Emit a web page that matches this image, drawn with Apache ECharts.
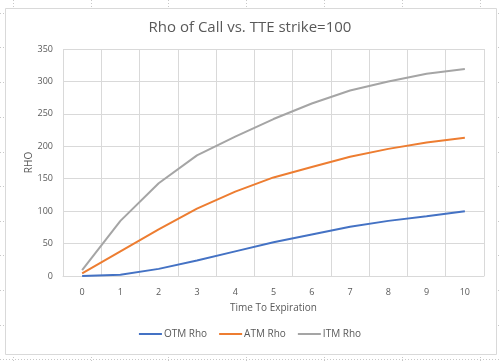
<!DOCTYPE html>
<html><head><meta charset="utf-8">
<script src="https://cdn.jsdelivr.net/npm/echarts@6/dist/echarts.min.js"></script>
<style>html,body{margin:0;padding:0;background:#fff}#c{width:500px;height:361px}</style>
</head><body><div id="c"></div>
<script>
const categories = ['0','1','2','3','4','5','6','7','8','9','10'];
const otmRho = [0, 2, 11, 24, 38, 52, 64, 76, 85, 92, 100];
const atmRho = [4, 38, 72, 104, 130, 152, 168, 184, 196, 206, 213];
const itmRho = [9, 85, 143, 186, 215, 242, 266, 286, 300, 312, 319];
const yTicks = [0, 50, 100, 150, 200, 250, 300, 350];

const font = 'Open Sans';
const txt = '#595959';
const chart = echarts.init(document.getElementById('c'), null, {renderer: 'canvas'});
const mk = (name, data, color) => ({
  name, type: 'line', data, symbol: 'none', smooth: false,
  lineStyle: {color, width: 2}, itemStyle: {color}
});
// spreadsheet background cell lines (decoration)
const sheet = [];
[13, 91, 168, 246, 324, 402, 480].forEach(x => sheet.push({
  type: 'line', z: -2, shape: {x1: x + 0.5, y1: 0, x2: x + 0.5, y2: 361},
  style: {stroke: '#c8c8c8', lineWidth: 1, lineDash: [1, 2]}
}));
[13, 47, 82, 117, 152, 186, 221, 255, 290, 325, 359].forEach(y => sheet.push({
  type: 'line', z: -2, shape: {x1: 0, y1: y + 0.5, x2: 500, y2: y + 0.5},
  style: {stroke: '#c8c8c8', lineWidth: 1, lineDash: [1, 2]}
}));
sheet.push({
  type: 'rect', z: -1, shape: {x: 5.5, y: 8.5, width: 491, height: 346},
  style: {fill: '#fff', stroke: '#d9d9d9', lineWidth: 1}
});
chart.setOption({
  backgroundColor: '#fff',
  animation: false,
  graphic: sheet,
  title: {
    text: 'Rho of Call vs. TTE strike=100', left: 'center', top: 15,
    textStyle: {fontFamily: font, fontSize: 15, fontWeight: 'normal', color: txt}
  },
  legend: {
    bottom: 17, left: 'center', itemWidth: 23, itemHeight: 2, itemGap: 12,
    icon: 'rect',
    textStyle: {fontFamily: font, fontSize: 10, color: txt, padding: [0, 0, 0, -3]},
    data: ['OTM Rho', 'ATM Rho', 'ITM Rho']
  },
  grid: {left: 63, right: 16, top: 49, bottom: 85, containLabel: false},
  xAxis: {
    type: 'category', data: categories, boundaryGap: true,
    name: 'Time To Expiration', nameLocation: 'middle', nameGap: 27,
    nameTextStyle: {fontFamily: font, fontSize: 10, color: txt},
    axisLine: {lineStyle: {color: '#d9d9d9'}},
    axisTick: {show: false},
    axisLabel: {fontFamily: font, fontSize: 9, color: txt, margin: 12},
    splitLine: {show: true, interval: 0, lineStyle: {color: '#d9d9d9'}}
  },
  yAxis: {
    type: 'value', min: 0, max: yTicks[yTicks.length - 1], interval: 50,
    name: 'RHO', nameLocation: 'middle', nameGap: 29, nameRotate: 90,
    nameMoveOverlap: false,
    nameTextStyle: {fontFamily: font, fontSize: 10, color: txt},
    axisLine: {show: false}, axisTick: {show: false},
    axisLabel: {fontFamily: font, fontSize: 9, color: txt, margin: 10},
    splitLine: {lineStyle: {color: '#d9d9d9'}}
  },
  series: [
    mk('OTM Rho', otmRho, '#4472C4'),
    mk('ATM Rho', atmRho, '#ED7D31'),
    mk('ITM Rho', itmRho, '#A5A5A5')
  ]
});
</script></body></html>
